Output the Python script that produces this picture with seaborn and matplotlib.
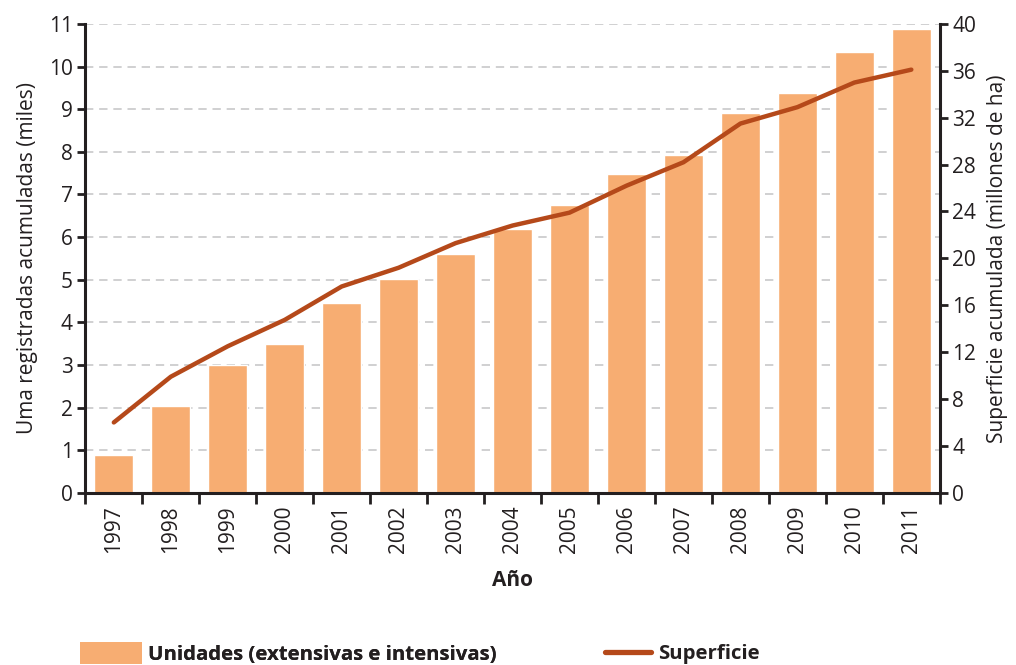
import matplotlib
matplotlib.use("Agg")
import matplotlib.pyplot as plt
import seaborn as sns
import pandas as pd
import numpy as np
from matplotlib.lines import Line2D
from matplotlib.patches import Patch

years = ["1997", "1998", "1999", "2000", "2001", "2002", "2003", "2004",
         "2005", "2006", "2007", "2008", "2009", "2010", "2011"]
unidades = [0.89, 2.04, 3.0, 3.5, 4.46, 5.02, 5.61, 6.2, 6.76, 7.49, 7.93,
            8.92, 9.37, 10.33, 10.89]
superficie = [6.0, 9.9, 12.5, 14.75, 17.6, 19.2, 21.3, 22.8, 23.9, 26.2,
              28.2, 31.5, 32.9, 35.0, 36.1]

bar_color = "#F7AD72"
line_color = "#B5491A"
ink = "#231F20"

sns.set_style("white")
plt.rcParams["font.family"] = ["Open Sans", "DejaVu Sans"]
plt.rcParams["xtick.bottom"] = True
plt.rcParams["ytick.left"] = True
plt.rcParams["ytick.right"] = True

df = pd.DataFrame({"year": years, "unidades": unidades, "superficie": superficie})

fig = plt.figure(figsize=(10.16, 6.65), dpi=100)
ax = fig.add_axes([0.084, 0.259, 0.841, 0.705])

sns.barplot(data=df, x="year", y="unidades", color=bar_color, saturation=1,
            width=0.68, ax=ax, zorder=2)
ax.set_ylim(0, 11)
ax.set_yticks(range(0, 12))
ax.set_xlim(-0.5, len(years) - 0.5)
ax.yaxis.grid(True, color="#C8C8CA", linestyle=(0, (5, 3.5)), linewidth=1.2, zorder=0)
ax.set_axisbelow(True)

ax2 = ax.twinx()
sns.lineplot(x=np.arange(len(years)), y=df["superficie"], color=line_color,
             linewidth=3.2, ax=ax2, zorder=3)
ax2.set_ylim(0, 40)
ax2.set_yticks(range(0, 41, 4))
ax2.set_xlim(-0.5, len(years) - 0.5)

for a in (ax, ax2):
    a.spines["top"].set_visible(False)
    for s in ("left", "right", "bottom"):
        a.spines[s].set_color(ink)
        a.spines[s].set_linewidth(2.2)
ax.spines["right"].set_visible(False)
ax2.spines["left"].set_visible(False)
ax2.spines["bottom"].set_visible(False)

ax.tick_params(axis="y", direction="out", length=6, width=2, color=ink,
               labelsize=15, labelcolor=ink, pad=3, left=True, right=False)
ax2.tick_params(axis="y", direction="out", length=6, width=2, color=ink,
                labelsize=15, labelcolor=ink, pad=3, right=True, left=False)
for lab in ax.get_yticklabels() + ax2.get_yticklabels():
    lab.set_fontweight("medium")
ax.set_xticks(np.arange(len(years)))
ax.set_xticklabels(years, rotation=90, fontsize=15, color=ink, fontweight="medium")
ax.tick_params(axis="x", which="major", length=0, pad=9)
ax.set_xticks(np.arange(-0.5, len(years)), minor=True)
ax.tick_params(axis="x", which="minor", direction="out", length=8, width=2,
               color=ink, bottom=True)

ax.set_xlabel("Año", fontsize=15, fontweight="bold", color=ink, labelpad=12)
ax.set_ylabel("Uma registradas acumuladas (miles)", fontsize=15, color=ink,
              fontweight="medium", labelpad=8)
ax2.set_ylabel("Superficie acumulada (millones de ha)", fontsize=15, color=ink,
               fontweight="medium", labelpad=8)

leg_font = {"size": 14.7, "weight": "bold"}
leg1 = fig.legend([Patch(facecolor=bar_color, edgecolor="none")],
                  ["Unidades (extensivas e intensivas)"], loc="center left",
                  bbox_to_anchor=(0.079, 0.017), frameon=False, prop=leg_font,
                  handlelength=3.0, handleheight=1.3, handletextpad=0.3,
                  labelcolor=ink, borderpad=0, borderaxespad=0)
fig.add_artist(leg1)
fig.legend([Line2D([0], [0], color=line_color, linewidth=3.8)], ["Superficie"],
           loc="center left", bbox_to_anchor=(0.595, 0.017), frameon=False,
           prop=leg_font, handlelength=2.3, handletextpad=0.3, labelcolor=ink,
           borderpad=0, borderaxespad=0)

fig.savefig("out.png", dpi=100)
